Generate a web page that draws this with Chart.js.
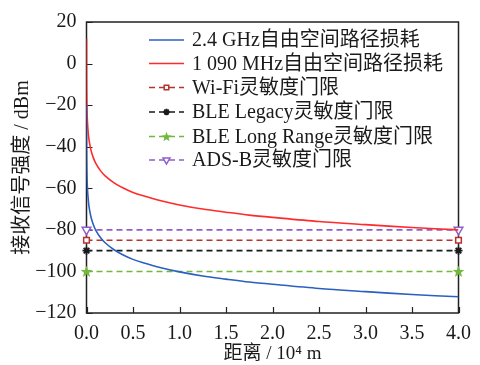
<!DOCTYPE html>
<html>
<head>
<meta charset="utf-8">
<script src="https://cdn.jsdelivr.net/npm/chart.js@4/dist/chart.umd.min.js"></script>
<style>
  html, body { margin: 0; padding: 0; background: #fff; }
  #wrap { width: 480px; height: 365px; position: relative; }
</style>
</head>
<body>
<div id="wrap"><canvas id="c"></canvas></div>
<script>
// distance in units of 10^4 m
const distance = [0.0001, 0.0002, 0.0005, 0.001, 0.002, 0.005, 0.01, 0.02, 0.03, 0.05, 0.075, 0.1, 0.15, 0.2, 0.3, 0.4, 0.5, 0.6, 0.8, 1.0, 1.25, 1.5, 1.75, 2.0, 2.5, 3.0, 3.5, 4.0];
const loss24 = [-20, -26, -34, -40, -46, -54, -60, -66, -69.7, -74.2, -77.7, -80.2, -83.7, -86.2, -89.7, -92.2, -94.2, -95.7, -98.2, -100.2, -102.2, -103.7, -105.1, -106.2, -108.2, -109.7, -111.1, -112.2];
const loss1090 = [12, 6, -2, -8, -14, -22, -28, -34, -37.5, -42, -45.5, -48, -51.5, -54, -57.5, -60, -62, -63.5, -66, -68, -70, -71.5, -72.9, -74, -76, -77.5, -78.9, -80];
const thresholdX = [0, 4];
const wifiLevel = -85;
const bleLegacyLevel = -90;
const bleLongRangeLevel = -100;
const adsbLevel = -80;
const yTicks = [20, 0, -20, -40, -60, -80, -100, -120];
const xTicks = [0, 0.5, 1, 1.5, 2, 2.5, 3, 3.5, 4];

const serif = "'Liberation Serif', 'Noto Sans CJK SC', serif";
Chart.defaults.font.family = serif;
Chart.defaults.color = '#1a1a1a';

function pts(xs, ys) { return xs.map((x, i) => ({ x: x, y: ys[i] })); }
function flat(v) { return thresholdX.map(x => ({ x: x, y: v })); }

// pentagram marker
function makeStar(color, size) {
  const s = document.createElement('canvas');
  s.width = size; s.height = size;
  const g = s.getContext('2d');
  const c = size / 2, R = size / 2 - 0.3;
  g.beginPath();
  for (let i = 0; i < 10; i++) {
    const r = i % 2 === 0 ? R : R * 0.42;
    const a = -Math.PI / 2 + i * Math.PI / 5;
    const px = c + r * Math.cos(a), py = c + 0.5 + r * Math.sin(a);
    if (i === 0) g.moveTo(px, py); else g.lineTo(px, py);
  }
  g.closePath();
  g.fillStyle = color;
  g.fill();
  return s;
}

const BLUE = '#2b5fc0', RED = '#ff2a2a', WIFI = '#b8332e', BLACK = '#1a1a1a', GREEN = '#72b83e', PURPLE = '#8e5fcb';
const starImg = makeStar(GREEN, 13);
const starSmall = makeStar(GREEN, 11);

const datasets = [
  { label: '2.4 GHz自由空间路径损耗', data: pts(distance, loss24), borderColor: BLUE, borderWidth: 1.6, pointRadius: 0, tension: 0.3 },
  { label: '1 090 MHz自由空间路径损耗', data: pts(distance, loss1090), borderColor: RED, borderWidth: 1.6, pointRadius: 0, tension: 0.3 },
  { label: 'Wi-Fi灵敏度门限', data: flat(wifiLevel), borderColor: WIFI, borderWidth: 1.6, borderDash: [6, 4], clip: false,
    pointStyle: 'rect', pointRadius: 4, pointBorderColor: WIFI, pointBackgroundColor: '#fff', pointBorderWidth: 1.5 },
  { label: 'BLE Legacy灵敏度门限', data: flat(bleLegacyLevel), borderColor: BLACK, borderWidth: 1.6, borderDash: [6, 4], clip: false,
    pointStyle: 'star', pointRadius: 4, pointBorderColor: BLACK, pointBackgroundColor: BLACK, pointBorderWidth: 1.8 },
  { label: 'BLE Long Range灵敏度门限', data: flat(bleLongRangeLevel), borderColor: GREEN, borderWidth: 1.6, borderDash: [6, 4], clip: false,
    pointStyle: starImg, pointRadius: 6 },
  { label: 'ADS-B灵敏度门限', data: flat(adsbLevel), borderColor: PURPLE, borderWidth: 1.6, borderDash: [6, 4], clip: false,
    pointStyle: 'triangle', rotation: 180, pointRadius: 5, pointBorderColor: PURPLE, pointBackgroundColor: '#fff', pointBorderWidth: 1.5 }
];

// frame and inward ticks (under the lines, like the original)
const framePlugin = {
  id: 'frame',
  beforeDatasetsDraw(chart) {
    const { ctx, chartArea: a, scales } = chart;
    ctx.save();
    ctx.strokeStyle = '#222';
    ctx.lineWidth = 1.5;
    ctx.strokeRect(a.left, a.top, a.right - a.left, a.bottom - a.top);
    ctx.beginPath();
    yTicks.forEach(v => {
      const y = Math.round(scales.y.getPixelForValue(v)) + 0.5;
      ctx.moveTo(a.left, y); ctx.lineTo(a.left + 6, y);
    });
    xTicks.forEach(v => {
      const x = Math.round(scales.x.getPixelForValue(v)) + 0.5;
      ctx.moveTo(x, a.bottom); ctx.lineTo(x, a.bottom - 6);
    });
    ctx.lineWidth = 1.2;
    ctx.stroke();
    ctx.restore();
  },
  afterDraw(chart) {
    const ctx = chart.ctx;
    ctx.save();
    const x0 = 149, x1 = 184, tx = 192, rowY = [40, 63.5, 87.5, 112, 136.5, 160];
    chart.data.datasets.forEach((ds, i) => {
      const y = rowY[i];
      ctx.strokeStyle = ds.borderColor;
      ctx.lineWidth = 1.5;
      ctx.setLineDash(ds.borderDash || []);
      ctx.beginPath(); ctx.moveTo(x0, y); ctx.lineTo(x1, y); ctx.stroke();
      ctx.setLineDash([]);
      if (ds.pointRadius) {
        ctx.fillStyle = ds.pointBackgroundColor || ds.borderColor;
        ctx.strokeStyle = ds.pointBorderColor || ds.borderColor;
        ctx.lineWidth = ds.pointBorderWidth || 1;
        Chart.helpers.drawPoint(ctx, {
          pointStyle: ds.pointStyle === starImg ? starSmall : ds.pointStyle,
          rotation: ds.rotation || 0,
          radius: ds.pointRadius * 0.8, borderWidth: ds.pointBorderWidth || 1
        }, (x0 + x1) / 2, y);
      }
      ctx.fillStyle = '#1a1a1a';
      ctx.font = "20px " + serif;
      ctx.textBaseline = 'middle';
      ctx.textAlign = 'left';
      ctx.fillText(ds.label, tx, y + 1);
    });
    ctx.restore();
  }
};

new Chart(document.getElementById('c'), {
  type: 'line',
  data: { datasets: datasets },
  options: {
    responsive: true,
    maintainAspectRatio: false,
    animation: false,
    layout: { padding: { top: 20, right: 15, left: 0, bottom: 0 } },
    plugins: { legend: { display: false }, tooltip: { enabled: false } },
    scales: {
      x: {
        type: 'linear', min: 0, max: 4,
        afterBuildTicks(s) { s.ticks = xTicks.map(v => ({ value: v })); },
        afterFit(s) { s.height = 52; },
        grid: { display: false, drawTicks: false },
        border: { display: false },
        ticks: { color: '#1a1a1a', padding: 9, maxRotation: 0, font: { family: serif, size: 20 },
          callback: v => v.toFixed(1) },
        title: { display: true, text: '距离 / 10⁴ m', color: '#1a1a1a', padding: { top: 0, bottom: 0 },
          font: { family: serif, size: 19 } }
      },
      y: {
        type: 'linear', min: -120, max: 20,
        afterBuildTicks(s) { s.ticks = yTicks.map(v => ({ value: v })); },
        afterFit(s) { s.width = 86.5; },
        grid: { display: false, drawTicks: false },
        border: { display: false },
        ticks: { color: '#1a1a1a', padding: 10, font: { family: serif, size: 20 },
          callback: v => String(v).replace('-', '\u2212') },
        title: { display: true, text: '接收信号强度 / dBm', color: '#1a1a1a', padding: { top: 11, bottom: 0 },
          font: { family: serif, size: 20 } }
      }
    }
  },
  plugins: [framePlugin]
});
</script>
</body>
</html>
